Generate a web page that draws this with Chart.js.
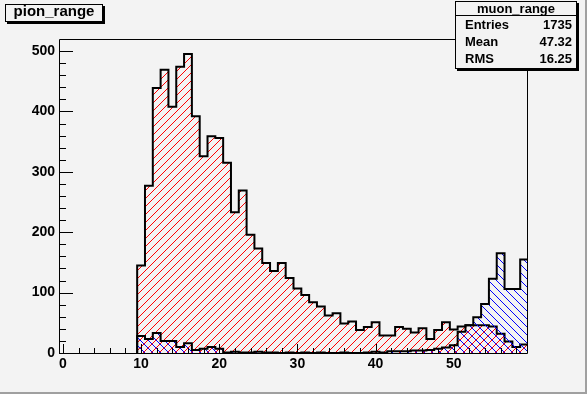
<!DOCTYPE html>
<html><head><meta charset="utf-8">
<script src="https://cdn.jsdelivr.net/npm/chart.js@4.4.1/dist/chart.umd.min.js"></script>
<style>
html,body{margin:0;padding:0;background:#f3f3f3;}
#wrap{position:relative;width:587px;height:394px;overflow:hidden;background:#f3f3f3;font-family:"Liberation Sans",Arial,sans-serif;font-weight:bold;color:#000;}
#c{position:absolute;left:0;top:0;}
.edgeR{position:absolute;left:585px;top:0;width:2px;height:394px;background:#a0a0a0;}
.edgeB{position:absolute;left:0;top:392px;width:587px;height:2px;background:#a0a0a0;}
#title{position:absolute;left:5px;top:4px;width:96px;height:16px;border:1px solid #000;box-shadow:2px 2px 0 #000;background:#f3f3f3;font-size:15px;line-height:12px;text-align:center;box-sizing:content-box;}
#stats{position:absolute;left:455px;top:1px;width:120px;height:66px;border:1px solid #000;box-shadow:2px 2px 0 #000;background:#f3f3f3;font-size:13px;}
#stats .sep{position:absolute;left:0;top:13px;width:120px;height:1px;background:#000;}
#stats span{position:absolute;line-height:13px;white-space:nowrap;}
#stats .hd{left:0;width:120px;text-align:center;top:0;}
#stats .lab{left:9px;}
#stats .val{right:4px;}
</style>
</head><body>
<div id="wrap">
<canvas id="c" width="587" height="394"></canvas>
<div class="edgeR"></div><div class="edgeB"></div>
<div id="title"></div>
<div id="stats"></div>
</div>
<script>
// ---- data ----
const histTitle = "pion_range";
const statsTitle = "muon_range";
const statsLabels = ["Entries", "Mean", "RMS"];
const statsValues = ["1735", "47.32", "16.25"];

const bins = [10,11,12,13,14,15,16,17,18,19,20,21,22,23,24,25,26,27,28,29,30,31,32,33,34,35,36,37,38,39,40,41,42,43,44,45,46,47,48,49,50,51,52,53,54,55,56,57,58,59];
const pion = [145,277,439,469,408,474,495,392,326,359,356,315,233,269,196,173,149,136,149,124,107,96,84,77,62,66,49,52,38,43,51,29,29,43,40,34,41,23,38,51,39,44,46,46,46,44,32,19,10,14];
const muon = [28,23,33,20,20,10,16,5,7,10,7,1,2,1,1,2,1,1,0,1,0,1,0,1,0,0,1,0,0,1,2,1,3,3,3,4,4,5,7,9,13,35,46,59,81,123,165,106,106,155];

const xMajorTicks = [0,10,20,30,40,50];
const yMajorTicks = [0,100,200,300,400,500];
const xMinorStep = 2, yMinorStep = 20;
const xRange = [-0.5, 59.5], yRange = [0, 520];

// ---- text boxes ----
document.getElementById('title').textContent = histTitle;
(function(){
  const s = document.getElementById('stats');
  let h = '<span class="hd">'+statsTitle+'</span><div class="sep"></div>';
  const tops = [16, 33, 49.5];
  statsLabels.forEach((l,i)=>{
    h += '<span class="lab" style="top:'+tops[i]+'px">'+l+'</span><span class="val" style="top:'+tops[i]+'px">'+statsValues[i]+'</span>';
  });
  s.innerHTML = h;
})();

// ---- helpers ----
function hatch(color, dir){
  const c = document.createElement('canvas'); c.width = 8; c.height = 8;
  const g = c.getContext('2d'); g.fillStyle = color;
  for (let i=0;i<8;i++) g.fillRect(i, dir>0 ? 7-i : i, 1, 1);
  return g.createPattern(c, 'repeat');
}
function histPoints(centers, vals){
  const pts = [{x: centers[0]-0.5, y: 0}];
  centers.forEach((b,i)=>pts.push({x: b+0.5, y: vals[i]}));
  pts.push({x: centers[centers.length-1]+0.5, y: 0});
  return pts;
}
function range(a,b,s){ const r=[]; for(let v=a; v<=b; v+=s) r.push(v); return r; }

const frameTicks = {
  id: 'frameTicks',
  afterDatasetsDraw(chart){
    const {ctx, chartArea:a, scales:{x,y}} = chart;
    ctx.save();
    ctx.strokeStyle = '#000'; ctx.lineWidth = 1;
    ctx.beginPath();
    ctx.rect(Math.round(a.left)+0.5, Math.round(a.top)+0.5, Math.round(a.right-a.left)-1, Math.round(a.bottom-a.top));
    ctx.stroke();
    ctx.beginPath();
    y.ticks.forEach(t=>{
      if (t.value >= yRange[1]) return;
      const py = Math.round(y.getPixelForValue(t.value))+0.5;
      const len = yMajorTicks.includes(t.value) ? 14 : 7;
      ctx.moveTo(a.left, py); ctx.lineTo(a.left+len, py);
    });
    x.ticks.forEach(t=>{
      const px = Math.round(x.getPixelForValue(t.value))+0.5;
      const len = xMajorTicks.includes(t.value) ? 9 : 5;
      ctx.moveTo(px, a.bottom); ctx.lineTo(px, a.bottom-len);
    });
    ctx.stroke();
    ctx.restore();
  }
};

const tickFont = {family: '"Liberation Sans", Arial, sans-serif', size: 14, weight: 'bold'};

new Chart(document.getElementById('c'), {
  type: 'line',
  data: {
    datasets: [
      { label: 'muon_range', data: histPoints(bins, muon), stepped: 'after', fill: 'origin',
        backgroundColor: hatch('#0000ff', -1), borderColor: '#000', borderWidth: 2, pointRadius: 0, tension: 0 },
      { label: 'pion_range', data: histPoints(bins, pion), stepped: 'after', fill: 'origin',
        backgroundColor: hatch('#ff0000', 1), borderColor: '#000', borderWidth: 2, pointRadius: 0, tension: 0 }
    ]
  },
  options: {
    responsive: false, devicePixelRatio: 1, animation: false,
    layout: {padding: {top: 39, right: 59, left: 0, bottom: 0}},
    plugins: {legend: {display: false}, tooltip: {enabled: false}, title: {display: false}},
    scales: {
      x: { type: 'linear', min: xRange[0], max: xRange[1],
        afterBuildTicks: s => { s.ticks = range(0, 58, xMinorStep).map(v=>({value: v})); },
        afterFit: s => { s.height = 41; },
        grid: {display: false, drawTicks: false}, border: {display: false},
        ticks: {autoSkip: false, maxRotation: 0, padding: 3, color: '#000', font: tickFont,
          callback: v => xMajorTicks.includes(v) ? String(v) : ''} },
      y: { type: 'linear', min: yRange[0], max: yRange[1],
        afterBuildTicks: s => { s.ticks = range(0, 500, yMinorStep).map(v=>({value: v})); },
        afterFit: s => { s.width = 59; },
        grid: {display: false, drawTicks: false}, border: {display: false},
        ticks: {autoSkip: false, padding: 4, color: '#000', font: tickFont,
          callback: v => yMajorTicks.includes(v) ? String(v) : ''} }
    }
  },
  plugins: [frameTicks]
});
</script>
</body></html>
